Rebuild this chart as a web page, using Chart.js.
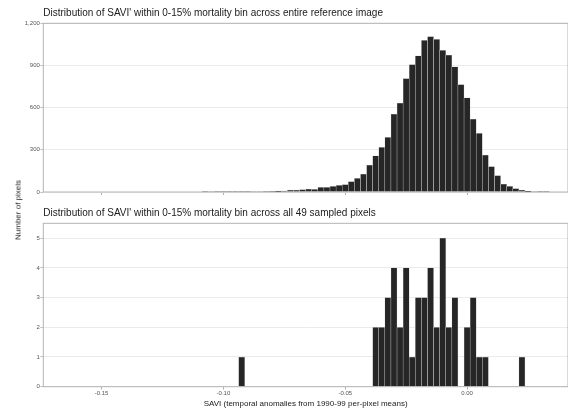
<!DOCTYPE html>
<html>
<head>
<meta charset="utf-8">
<script src="https://cdn.jsdelivr.net/npm/chart.js@4.4.1/dist/chart.umd.min.js"></script>
<style>
  html, body { margin: 0; padding: 0; background: #fff; }
  #wrap { position: relative; width: 568px; height: 412px; font-family: "Liberation Sans", Arial, sans-serif; }
  #c1 { position: absolute; left: 0; top: 0; }
  #c2 { position: absolute; left: 0; top: 200px; }
  #ylab { position: absolute; left: 18px; top: 210px; transform: translate(-50%, -50%) rotate(-90deg);
          font-size: 8px; color: #1a1a1a; white-space: nowrap; }
</style>
</head>
<body>
<div id="wrap">
  <canvas id="c1" width="568" height="200"></canvas>
  <canvas id="c2" width="568" height="212"></canvas>
  <div id="ylab">Number of pixels</div>
</div>
<script>
// ── Data (bin centres, binwidth 0.0025) ─────────────────────
const TOP_TITLE = "Distribution of SAVI' within 0-15% mortality bin across entire reference image";
const BOTTOM_TITLE = "Distribution of SAVI' within 0-15% mortality bin across all 49 sampled pixels";
const X_TITLE = 'SAVI (temporal anomalies from 1990-99 per-pixel means)';

const topBins = [
  -0.1075, -0.105, -0.1025, -0.1, -0.0975, -0.095, -0.0925, -0.09, -0.0875, -0.085,
  -0.0825, -0.08, -0.0775, -0.075, -0.0725, -0.07, -0.0675, -0.065, -0.0625, -0.06,
  -0.0575, -0.055, -0.0525, -0.05, -0.0475, -0.045, -0.0425, -0.04, -0.0375, -0.035,
  -0.0325, -0.03, -0.0275, -0.025, -0.0225, -0.02, -0.0175, -0.015, -0.0125, -0.01,
  -0.0075, -0.005, -0.0025, 0, 0.0025, 0.005, 0.0075, 0.01, 0.0125, 0.015,
  0.0175, 0.02, 0.0225, 0.025, 0.0275, 0.03, 0.0325
];
const topCounts = [
  2, 3, 1, 1, 1, 1, 2, 2, 3, 3,
  4, 5, 6, 8, 14, 14, 17, 21, 19, 33,
  33, 40, 48, 52, 74, 98, 128, 192, 257, 317,
  388, 555, 633, 807, 907, 969, 1079, 1105, 1086, 1007,
  974, 890, 764, 669, 519, 417, 262, 181, 117, 57,
  40, 24, 14, 7, 3, 2, 1
];

const bottomBins = [
  -0.0925, -0.0375, -0.035, -0.0325, -0.03, -0.0275, -0.025, -0.0225, -0.02, -0.0175,
  -0.015, -0.0125, -0.01, -0.0075, -0.005, -0.0025, 0, 0.0025, 0.005, 0.0075, 0.0225
];
const bottomCounts = [
  1, 2, 2, 3, 4, 2, 4, 1, 3, 3,
  4, 2, 5, 2, 3, 0, 2, 3, 1, 1, 1
];

const xTickValues = [-0.15, -0.10, -0.05, 0.00];
const topYTicks = [0, 300, 600, 900, 1200];
const bottomYTicks = [0, 1, 2, 3, 4, 5];

const X_MIN = -0.1739, X_MAX = 0.0414;
const FONT = '"Liberation Sans", Arial, sans-serif';

// ── Panel border (theme_light style) ────────────────────────
const panelBorder = {
  id: 'panelBorder',
  afterDatasetsDraw(chart) {
    const a = chart.chartArea, ctx = chart.ctx;
    ctx.save();
    ctx.strokeStyle = '#b3b3b3';
    ctx.lineWidth = 1;
    ctx.strokeRect(a.left, a.top, a.right - a.left, a.bottom - a.top);
    ctx.restore();
  }
};

function makeHist(canvasId, bins, counts, cfg) {
  return new Chart(document.getElementById(canvasId), {
    type: 'bar',
    data: {
      datasets: [{
        data: bins.map((b, i) => ({ x: b, y: counts[i] })),
        backgroundColor: '#262626',
        borderColor: '#d0d0d0',
        borderWidth: 0.5,
        barPercentage: 1,
        categoryPercentage: 1,
      }],
    },
    options: {
      responsive: false, animation: false,
      layout: { padding: 0 },
      plugins: {
        legend: { display: false },
        tooltip: { enabled: false },
        title: {
          display: true, text: cfg.title, align: 'start', fullSize: false,
          color: '#1a1a1a', font: { family: FONT, size: 10, weight: 'normal' },
          padding: { top: 7, bottom: 4.3 },
        },
      },
      scales: {
        x: {
          type: 'linear', min: X_MIN, max: X_MAX, offset: false,
          afterBuildTicks: s => { s.ticks = xTickValues.map(v => ({ value: v })); },
          afterFit: s => { s.height = cfg.xHeight; },
          border: { display: false },
          grid: { offset: false, drawOnChartArea: false, drawTicks: true, tickLength: 3, tickColor: '#b3b3b3' },
          ticks: {
            display: cfg.showX, padding: 0, color: '#555',
            font: { family: FONT, size: 6 },
            callback: v => (+v).toFixed(2),
          },
          title: {
            display: cfg.showX, text: X_TITLE, color: '#1a1a1a',
            font: { family: FONT, size: 8 }, padding: { top: 0, bottom: 3 },
          },
        },
        y: {
          min: 0, max: cfg.yMax,
          afterBuildTicks: s => { s.ticks = cfg.yTicks.map(v => ({ value: v })); },
          afterFit: s => { s.width = 43.3; },
          border: { display: false },
          grid: { color: '#e6e6e6', lineWidth: 0.8, tickLength: 3, tickColor: '#b3b3b3' },
          ticks: {
            padding: 0.5, color: '#555',
            font: { family: FONT, size: 6 },
            callback: v => v.toLocaleString('en-US'),
          },
        },
      },
    },
    plugins: [panelBorder],
  });
}

makeHist('c1', topBins, topCounts, {
  title: TOP_TITLE, yMax: 1200, yTicks: topYTicks, showX: false, xHeight: 8,
});
makeHist('c2', bottomBins, bottomCounts, {
  title: BOTTOM_TITLE, yMax: 5.5, yTicks: bottomYTicks, showX: true, xHeight: 25.3,
});
</script>
</body>
</html>
